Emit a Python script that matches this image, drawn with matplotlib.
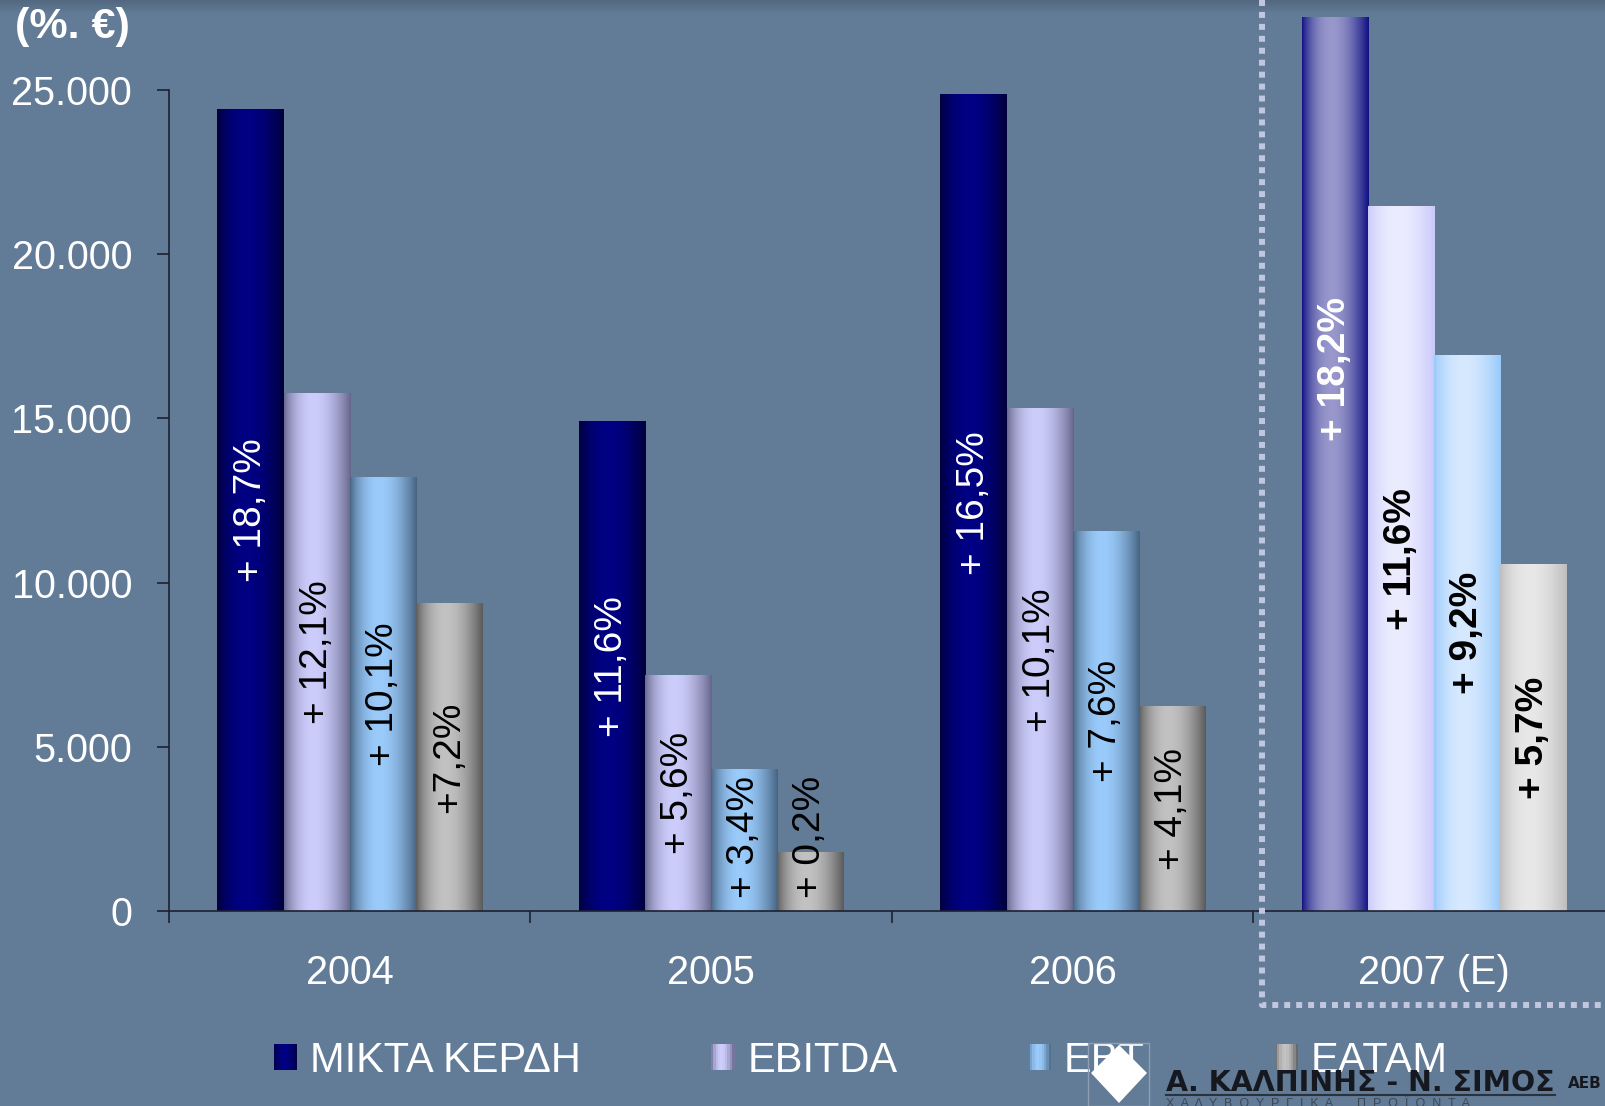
import numpy as np
import matplotlib.pyplot as plt
from matplotlib.patches import Patch, Rectangle, Polygon
from matplotlib.lines import Line2D
from matplotlib.legend_handler import HandlerBase

plt.rcParams['font.family'] = ['Liberation Sans', 'DejaVu Sans']

# Data
years = ['2004', '2005', '2006', '2007 (E)']
series_names = ['ΜΙΚΤΑ ΚΕΡΔΗ', 'EBITDA', 'EBT', 'EATAM']
gross_profit = [24400, 14900, 24870, 27200]
ebitda = [15760, 7180, 15290, 21440]
ebt = [13200, 4310, 11550, 16920]
eatam = [9360, 1780, 6240, 10550]
growth_labels = [
    ['+ 18,7%', '+ 11,6%', '+ 16,5%', '+ 18,2%'],
    ['+ 12,1%', '+ 5,6%', '+ 10,1%', '+ 11,6%'],
    ['+ 10,1%', '+ 3,4%', '+ 7,6%', '+ 9,2%'],
    ['+7,2%', '+ 0,2%', '+ 4,1%', '+ 5,7%'],
]
series = [gross_profit, ebitda, ebt, eatam]

bg = '#627b97'
# (edge colour, middle colour) for actual years and for the estimate
shade_actual = [('#00003a', '#000084'), ('#64648a', '#cdcdfc'),
                ('#45627f', '#9acbfb'), ('#585858', '#c2c2c2')]
shade_est = [('#0c0c80', '#9898cc'), ('#c8c8fa', '#ececff'),
             ('#96c8fa', '#d6e9ff'), ('#bcbcbc', '#e8e8e8')]
label_col = ['white', 'black', 'black', 'black']


def profile(t):
    # cylinder-like highlight, a bit left of centre
    return np.clip(np.sin(np.pi * np.clip(t, 0, 1) ** 0.85), 0, 1) ** 0.9


def hex2rgb(h):
    return np.array([int(h[i:i + 2], 16) / 255 for i in (1, 3, 5)])


def grad_image(edge, mid, n=64):
    t = (np.arange(n) + 0.5) / n
    w = profile(t)[:, None]
    row = hex2rgb(edge) * (1 - w) + hex2rgb(mid) * w
    return row[None, :, :]


class GradHandler(HandlerBase):
    def __init__(self, edge, mid):
        super().__init__()
        self.edge, self.mid = edge, mid

    def create_artists(self, legend, orig_handle, xdescent, ydescent,
                       width, height, fontsize, trans):
        n = 10
        arts = []
        for i in range(n):
            t = (i + 0.5) / n
            w = profile(np.array([t]))[0]
            c = hex2rgb(self.edge) * (1 - w) + hex2rgb(self.mid) * w
            arts.append(Rectangle((-xdescent + i * width / n, -ydescent),
                                  width / n * 1.05, height, facecolor=c,
                                  edgecolor='none', transform=trans))
        return arts


W, H = 1606, 1106
fig = plt.figure(figsize=(W / 100, H / 100), dpi=100, facecolor=bg)

# slightly darker strip at the very top
top = fig.add_axes([0, 1 - 14 / H, 1, 14 / H])
top.imshow(np.linspace(0.85, 1, 14)[:, None, None] * hex2rgb(bg)[None, None, :],
           aspect='auto', extent=(0, 1, 0, 1), origin='upper')
top.axis('off')

x0_px, cat_px = 169, 361.5
ax = fig.add_axes([x0_px / W, (H - 911) / H, 4 * cat_px / W, 821 / H])
ax.set_facecolor('none')

x = np.arange(len(years)) + 0.5
width = 0.183
offsets = (np.arange(4) - 1.5) * width

for si, vals in enumerate(series):
    bars = ax.bar(x + offsets[si], vals, width, color='none', clip_on=False)
    for bi, b in enumerate(bars):
        bx, bw, bh = b.get_x(), b.get_width(), b.get_height()
        est = bi == len(years) - 1
        edge, mid = (shade_est if est else shade_actual)[si]
        ax.imshow(grad_image(edge, mid), extent=(bx, bx + bw, 0, bh),
                  aspect='auto', clip_on=False, zorder=2, interpolation='bilinear')
        ypos = max(bh / 2, 2250)
        if est and si == 0:
            ypos = bh / 2 + 2900
        ax.text(bx + bw / 2, ypos, growth_labels[si][bi], rotation=90,
                ha='center', va='center', fontsize=28, color=label_col[si],
                fontweight='bold' if est else 'normal', zorder=3, clip_on=False)

ax.set_xlim(0, 4)
ax.set_ylim(0, 25000)
ax.set_aspect('auto')

for s in ['top', 'right']:
    ax.spines[s].set_visible(False)
for s in ['left', 'bottom']:
    ax.spines[s].set_color('#1c2030')
    ax.spines[s].set_linewidth(1.2)

yt = np.arange(0, 25001, 5000)
ax.set_yticks(yt)
ax.set_yticklabels([f'{v:,}'.replace(',', '.') for v in yt])
ax.tick_params(axis='y', length=8.6, width=1.2, color='#1c2030',
               labelcolor='white', labelsize=28.5, pad=18)
ax.set_xticks(x)
ax.set_xticklabels(years)
ax.set_xticks(np.arange(5), minor=True)
ax.tick_params(axis='x', which='major', length=0, labelcolor='white',
               labelsize=28.5, pad=31)
ax.tick_params(axis='x', which='minor', length=8.6, width=1.2, color='#1c2030')

fig.text(15 / W, 1 - 27 / H, '(%. €)', color='white', fontsize=31,
         fontweight='bold', ha='left', va='center')

# dotted box around the estimate
fig.add_artist(Line2D([1262 / W, 1262 / W, 1], [1, 1 - 1005 / H, 1 - 1005 / H],
                      transform=fig.transFigure, color='#c0c7df', lw=4.3,
                      linestyle=(0, (1, 1)), dash_capstyle='butt', zorder=4))

# legend
handles = [Patch(label=n) for n in series_names]
hmap = {h: GradHandler(*shade_actual[i]) for i, h in enumerate(handles)}
fig.legend(handles=handles, handler_map=hmap, loc='center left',
           bbox_to_anchor=(274 / W, 1 - 1061 / H), ncol=4, frameon=False,
           prop={'size': 30}, labelcolor='white',
           handlelength=0.56, handleheight=0.58,
           handletextpad=0.31, columnspacing=3.12, borderpad=0, borderaxespad=0)

# company logo
fig.add_artist(Rectangle((1088 / W, 0), 61 / W, 63 / H, transform=fig.transFigure,
                         facecolor='none', edgecolor='#8e9fb5', lw=1, zorder=9))
fig.add_artist(Polygon([[1119 / W, 1 - 1045 / H], [1147 / W, 1 - 1073 / H],
                        [1119 / W, 1 - 1103 / H], [1091 / W, 1 - 1073 / H]],
                       closed=True, transform=fig.transFigure,
                       facecolor='white', edgecolor='none', zorder=10))
fig.text(1166 / W, 1 - 1083 / H, 'Α. ΚΑΛΠΙΝΗΣ - Ν. ΣΙΜΟΣ', color='#15191f',
         fontsize=20.5, fontweight='bold', family='DejaVu Sans',
         ha='left', va='center', zorder=10)
fig.text(1568 / W, 1 - 1084 / H, 'ΑΕΒ', color='#15191f', fontsize=11,
         fontweight='bold', family='DejaVu Sans', ha='left', va='center', zorder=10)
fig.add_artist(Line2D([1166 / W, 1555 / W], [1 - 1095 / H] * 2,
                      transform=fig.transFigure, color='#2a323c', lw=1.5, zorder=10))
fig.text(1166 / W, 1 - 1098 / H, 'Χ  Α  Λ  Υ  Β  Ο  Υ  Ρ  Γ  Ι  Κ  Α       Π  Ρ  Ο  Ϊ  Ο  Ν  Τ  Α',
         color='#3c4856', fontsize=9, ha='left', va='top', zorder=10)

fig.savefig('out.png', dpi=100, facecolor=bg)
